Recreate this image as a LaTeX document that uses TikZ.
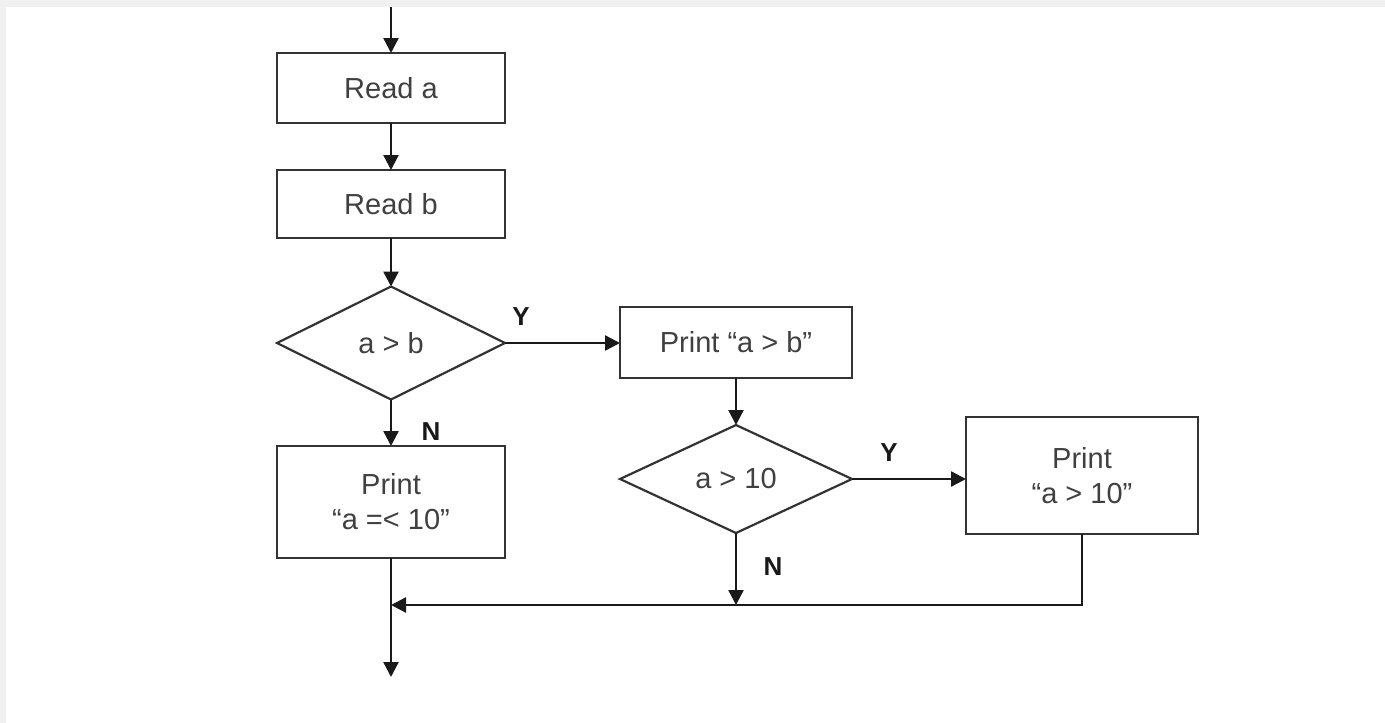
\documentclass[tikz,border=0pt]{standalone}
\usepackage{fontspec}
\setmainfont{Liberation Sans}
\usetikzlibrary{shapes.geometric,arrows.meta}
\begin{document}
\begin{tikzpicture}[x=1pt,y=-1pt,
  txt/.style={text=black!75, font=\fontsize{29}{35}\selectfont, align=center},
  box/.style={txt, draw=black!80, line width=2.5pt, fill=white, minimum width=228pt,
    minimum height=70pt, inner sep=0pt, outer sep=0pt},
  dec/.style={txt, diamond, draw=black!80, line width=2.2pt, fill=white, inner sep=0pt, outer sep=0pt},
  flow/.style={draw=black!90, line width=2.4pt, -{Triangle[length=15pt,width=15pt]}},
  lab/.style={font=\bfseries\fontsize{26}{28}\selectfont, text=black!90, inner sep=0pt}]
\fill[black!6] (0,0) rectangle (1385,723);
\fill[white] (6,7) rectangle (1385,723);
\useasboundingbox (0,0) rectangle (1385,723);

\node[box] (ra) at (391,88) {Read a};
\node[box, minimum height=68pt] (rb) at (391,204) {Read b};
\node[dec, minimum width=228pt, minimum height=113pt] (d1) at (391,343) {a > b};
\node[box, minimum width=232pt, minimum height=71pt] (pab) at (736,342.5) {Print “a > b”};
\node[dec, minimum width=232pt, minimum height=108pt] (d2) at (736,479) {a > 10};
\node[box, minimum width=232pt, minimum height=117pt] (pa10) at (1082,475.5) {Print\\“a > 10”};
\node[box, minimum height=112pt] (pl) at (391,502) {Print\\“a =< 10”};

\coordinate (top) at (391,7);
\coordinate (m) at (391,605);
\coordinate (end) at (391,677);

\draw[flow] (top) -- (ra);
\draw[flow] (ra) -- (rb);
\draw[flow] (rb) -- (d1);
\draw[flow] (d1.east) -- (d1.east -| pab.west);
\draw[flow] (d1) -- (pl);
\draw[flow] (pab) -- (d2);
\draw[flow] (d2.east) -- (d2.east -| pa10.west);
\draw[flow] (d2.south) -- (d2.south |- m);
\draw[flow] (pa10.south) |- (m);
\draw[flow] (pl) -- (end);

\node[lab] (y1) at (521,317) {Y};
\node[lab] (y2) at (889,453) {Y};
\node[lab] (n1) at (431,432) {N};
\node[lab] (n2) at (773,567) {N};
\end{tikzpicture}
\end{document}
